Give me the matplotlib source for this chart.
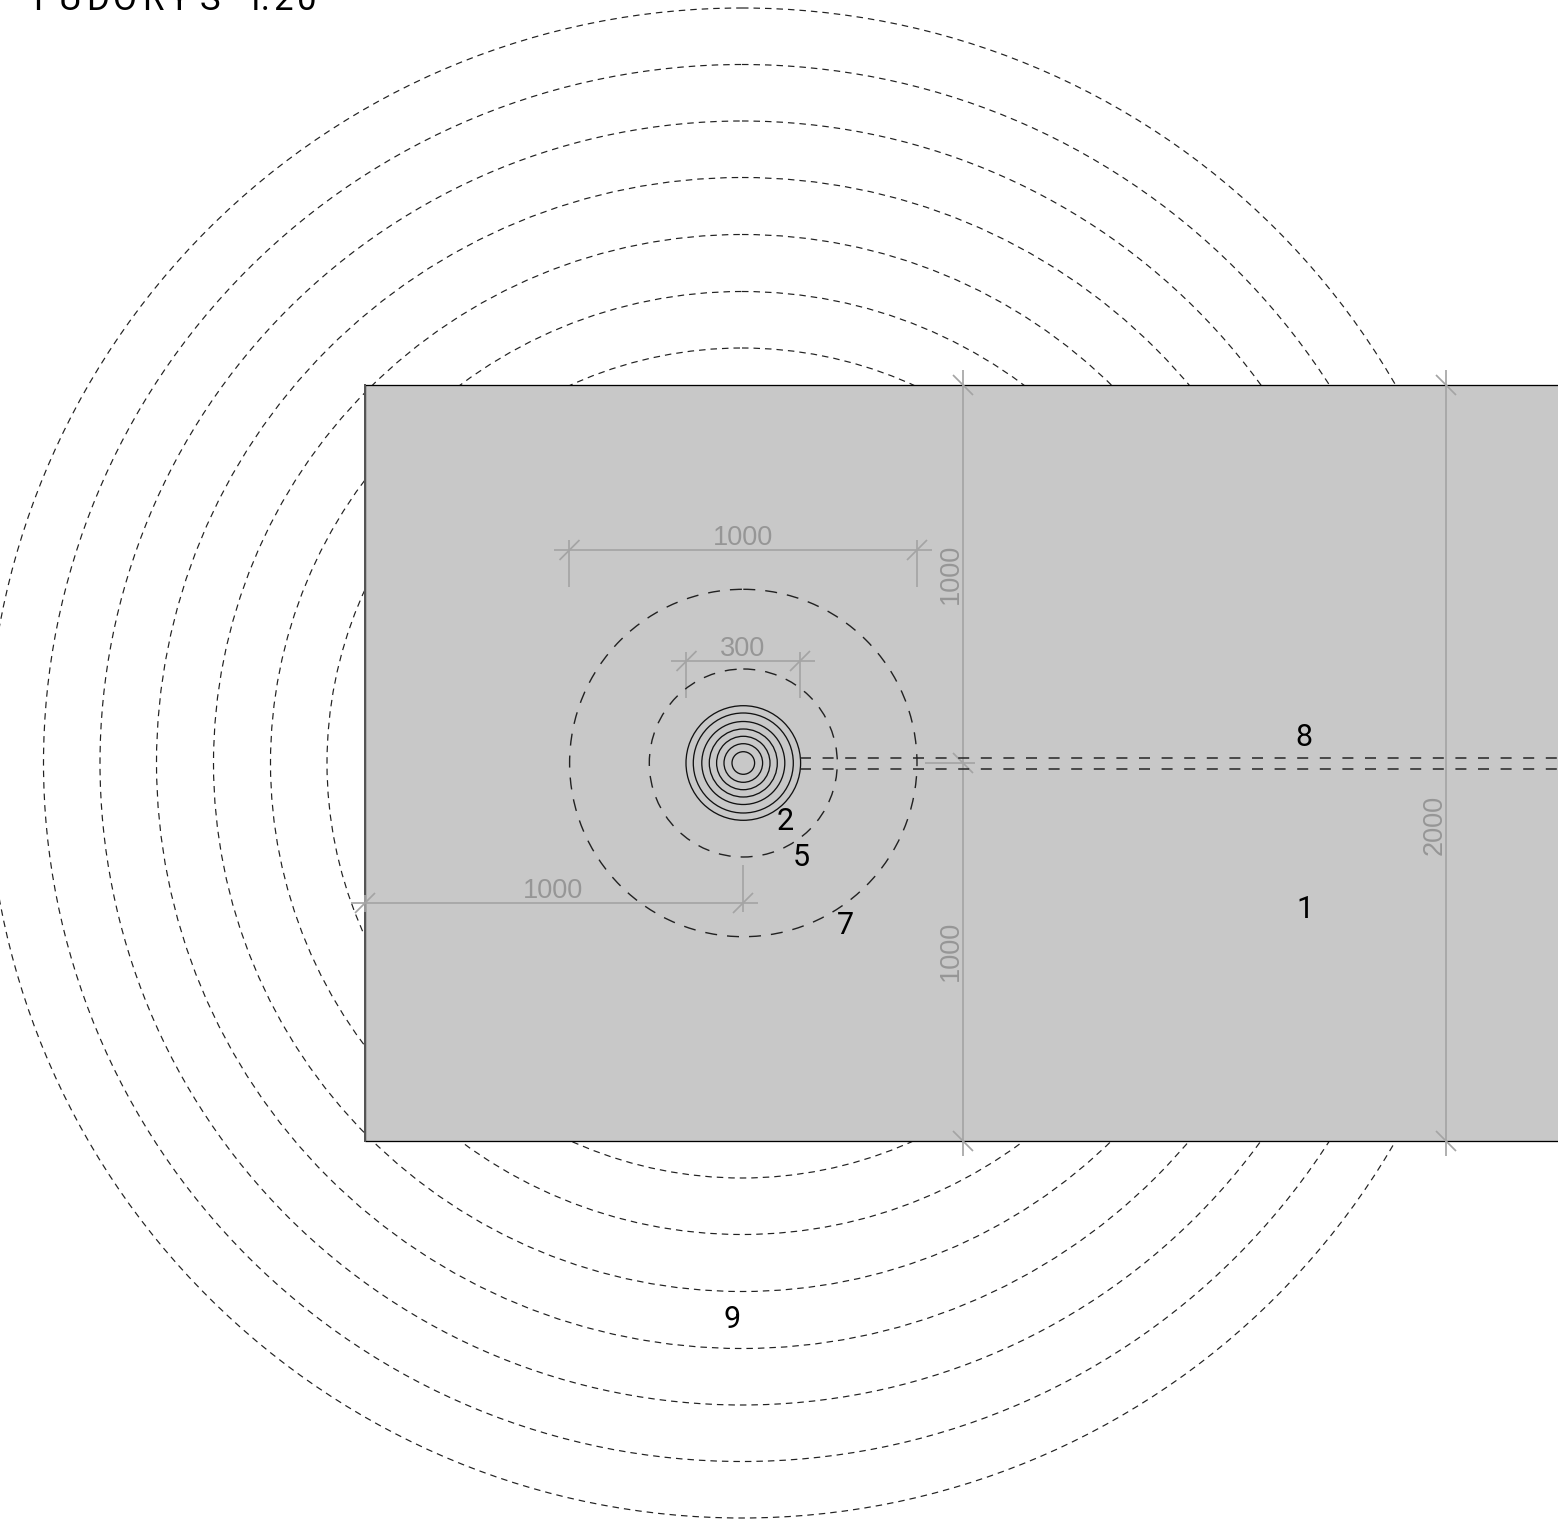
"""Floor plan at 1:20: slab, circular drain, dashed rings and dimension lines."""
import matplotlib
matplotlib.use("Agg")
import matplotlib.pyplot as plt
from matplotlib.patches import Circle, Rectangle

W, H = 1558, 1520
GRAY = "#c8c8c8"
DIM = "#a4a4a4"
DIM_TEXT = "#969696"

# drawing units are reference pixels
SLAB = (365, 385, 1300, 756)
CENTER = (743.3, 763)
OUTER_CENTER = (742, 763)
OUTER_RADII = [415, 471.5, 528.5, 585.5, 642, 698.5, 755]
SOLID_RADII = [11.3, 19.3, 26.7, 34, 41.5, 50, 57.3]
DASHED_RADII = [94, 173.7]
PIPE_Y = [757.8, 768.8]
PIPE_X = (800, 1558)

H_DIMS_Y = [550, 661, 903]
H_DIMS_X = [(554, 932), (671, 815), (351, 758)]
H_TICKS = [(569.5, 917), (686.5, 800), (365, 743)]
H_WITNESS = [[(569.5, 540, 587), (917, 540, 587)],
             [(686.5, 652, 698), (800, 652, 698)],
             [(743, 865, 912), (365, 895, 912)]]
V_DIMS_X = [963, 1446]
V_DIMS_Y = [(370, 1156), (370, 1156)]
V_TICKS = [(385, 763, 1141), (385, 1141)]
LEADER = (925, 975, 763)

DIM_LABELS = [("1000", 743, 538, 0), ("300", 743, 649, 0), ("1000", 553, 891, 0),
              ("1000", 951, 574, 90), ("1000", 951, 951, 90), ("2000", 1435, 825, 90)]
NUM_LABELS = [("1", 1305, 910), ("2", 785, 822), ("5", 801, 858), ("7", 845, 926),
              ("8", 1304, 737), ("9", 732, 1320)]
# the title is cut by the top edge, letters are spaced out one by one
TITLE_CHARS = list("PŮDORYS1:20")
TITLE_X = [44, 70, 98, 125, 153, 179, 210, 254, 265, 283, 307]

plt.rcParams["lines.scale_dashes"] = False
px = 0.72  # one pixel in points at dpi 100

fig = plt.figure(figsize=(W / 100, H / 100), dpi=100)
ax = fig.add_axes([0, 0, 1, 1])
ax.set_xlim(0, W)
ax.set_ylim(H, 0)
ax.axis("off")

for r in OUTER_RADII:
    ax.add_patch(Circle(OUTER_CENTER, r, fill=False, ec="#222222", lw=1.2 * px,
                        ls=(0, (6.5 * px, 5 * px)), zorder=1))

ax.add_patch(Rectangle(SLAB[:2], SLAB[2], SLAB[3], fc=GRAY, ec="black", lw=1.3 * px, zorder=2))
ax.plot([SLAB[0], SLAB[0]], [SLAB[1], SLAB[1] + SLAB[3]], color="#555555", lw=2 * px, zorder=2.5)

for r in SOLID_RADII:
    ax.add_patch(Circle(CENTER, r, fill=False, ec="#111111", lw=1.3 * px, zorder=4))
for r in DASHED_RADII:
    ax.add_patch(Circle(CENTER, r, fill=False, ec="#222222", lw=1.4 * px,
                        ls=(0, (12 * px, 10 * px)), zorder=4))
for y in PIPE_Y:
    ax.plot(PIPE_X, [y, y], color="#222222", lw=1.5 * px, ls=(0, (11 * px, 11.6 * px)), zorder=4)

dim_kw = dict(color=DIM, lw=1.7 * px, zorder=3, solid_capstyle="butt")
T = 10
for y, (x0, x1), ticks, wit in zip(H_DIMS_Y, H_DIMS_X, H_TICKS, H_WITNESS):
    ax.plot([x0, x1], [y, y], **dim_kw)
    for x in ticks:
        ax.plot([x - T, x + T], [y + T, y - T], **dim_kw)
    for x, y0, y1 in wit:
        ax.plot([x, x], [y0, y1], **dim_kw)
for x, (y0, y1), ticks in zip(V_DIMS_X, V_DIMS_Y, V_TICKS):
    ax.plot([x, x], [y0, y1], **dim_kw)
    for y in ticks:
        ax.plot([x - T, x + T], [y - T, y + T], **dim_kw)
ax.plot(LEADER[:2], [LEADER[2]] * 2, **dim_kw)

for s, x, y, rot in DIM_LABELS:
    ax.text(x, y, s, color=DIM_TEXT, fontsize=19.5, family="Liberation Sans", rotation=rot,
            ha="center", va="center", zorder=5)
for s, x, y in NUM_LABELS:
    ax.text(x, y, s, color="black", fontsize=22, family="Roboto",
            ha="center", va="center", zorder=5)
for s, x in zip(TITLE_CHARS, TITLE_X):
    ax.text(x, 10, s, color="black", fontsize=25, family="Roboto",
            ha="center", va="baseline", zorder=5)

fig.savefig("out.png", dpi=100)
